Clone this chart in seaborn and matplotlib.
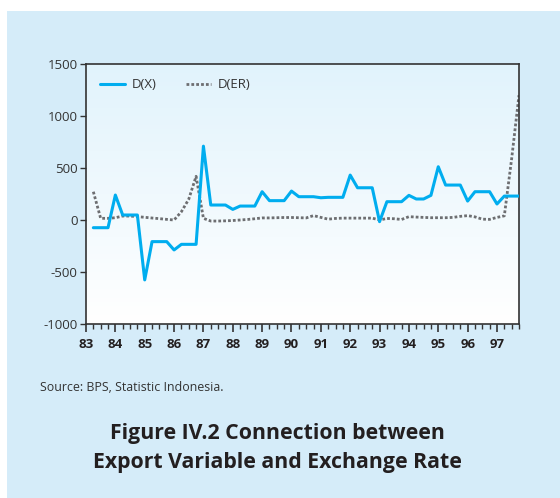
"""Export variable vs exchange rate, first differences (quarterly, 1983-1997)."""

import numpy as np
import pandas as pd
import matplotlib
matplotlib.use("Agg")
import matplotlib.pyplot as plt
from matplotlib.patches import Rectangle
import seaborn as sns

# quarter index 1..59 (0 = 83Q1)
quarters = list(range(1, 60))
year_labels = ["83", "84", "85", "86", "87", "88", "89", "90",
               "91", "92", "93", "94", "95", "96", "97"]

dx = [-74, -74, -74, 240, 48, 48, 48, -576, -208, -208,
      -208, -288, -234, -234, -234, 710, 144, 144, 144, 102,
      134, 134, 134, 272, 186, 186, 186, 278, 224, 224,
      224, 214, 218, 218, 218, 432, 310, 310, 310, -16,
      176, 176, 176, 237, 202, 202, 237, 512, 336, 336,
      336, 182, 272, 272, 272, 154, 230, 230, 230]

der = [272, 16, 16, 22, 38, 38, 32, 26, 19, 13,
       6, 0, 80, 200, 420, 16, -10, -10, -8, -5,
       0, 5, 12, 20, 20, 22, 24, 24, 22, 20,
       42, 25, 8, 15, 18, 18, 18, 18, 18, 0,
       15, 12, 5, 32, 28, 25, 22, 22, 22, 25,
       35, 42, 30, 8, 6, 25, 40, 590, 1200]

df = pd.DataFrame({"q": quarters, "D(X)": dx, "D(ER)": der})

BG = "#d5ecf9"
BLUE = "#00adef"
GREY = "#6d6e71"
INK = "#231f20"

sns.set_style("ticks")
plt.rcParams["font.family"] = ["Open Sans", "DejaVu Sans"]
plt.rcParams["axes.unicode_minus"] = False

fig = plt.figure(figsize=(5.6, 4.98), dpi=100)
fig.patch.set_facecolor("white")
fig.patches.append(Rectangle((7 / 560, 0), 1, 1 - 11 / 498,
                             transform=fig.transFigure,
                             facecolor=BG, edgecolor="none", zorder=-10))

ax = fig.add_axes([86 / 560, 1 - 324 / 498, (519 - 86) / 560, (324 - 64) / 498])
ax.set_facecolor("none")

# light blue -> white gradient behind the plot
grad = np.linspace(0, 1, 256).reshape(-1, 1)
cmap = matplotlib.colors.LinearSegmentedColormap.from_list("g", ["#e1f3fc", "#ffffff"])
ax.imshow(grad, aspect="auto", cmap=cmap, extent=[0, 1, 0, 1],
          transform=ax.transAxes, zorder=0, origin="upper")

sns.lineplot(data=df, x="q", y="D(X)", ax=ax, color=BLUE, lw=2.2,
             label="D(X)", zorder=3)
sns.lineplot(data=df, x="q", y="D(ER)", ax=ax, color=GREY, lw=2.0,
             label="D(ER)", zorder=2, dashes=False)
ax.lines[1].set_linestyle((0, (1, 0.75)))
ax.lines[1].set_dash_capstyle("butt")

ax.set_xlim(0, 59)
ax.set_ylim(-1000, 1500)
ax.set_yticks([-1000, -500, 0, 500, 1000, 1500])
ax.set_xticks(range(0, 57, 4))
ax.set_xticklabels(year_labels, fontweight="bold", fontsize=9.5, color=INK)
ax.set_xticks(range(0, 60), minor=True)
ax.tick_params(axis="y", labelsize=9.5, labelcolor="#333333", length=4,
               width=1, color="#333333", pad=2)
ax.tick_params(axis="x", which="major", length=6, width=1.2, color="#333333", pad=4)
ax.tick_params(axis="x", which="minor", length=3.5, width=1, color="#333333")
ax.set_xlabel("")
ax.set_ylabel("")
for s in ax.spines.values():
    s.set_visible(True)
    s.set_linewidth(1.2)
    s.set_color("#333333")

leg = ax.legend(loc="upper left", ncol=2, frameon=False, fontsize=9.5,
                handlelength=1.9, columnspacing=2.2, handletextpad=0.5,
                bbox_to_anchor=(0.005, 0.99))
for t in leg.get_texts():
    t.set_color("#333333")

fig.text(40 / 560, 1 - 387 / 498, "Source: BPS, Statistic Indonesia.",
         fontsize=8.9, color="#333333", va="center", ha="left")
fig.text(277 / 560, 1 - 448 / 498,
         "Figure IV.2 Connection between\nExport Variable and Exchange Rate",
         fontsize=15.3, fontweight="bold", color=INK, ha="center", va="center",
         linespacing=1.45)

fig.savefig("out.png", dpi=100, facecolor=fig.get_facecolor())
